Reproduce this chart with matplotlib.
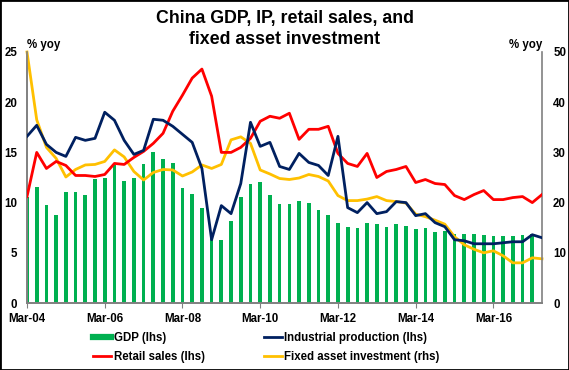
import numpy as np
import matplotlib
matplotlib.use("Agg")
import matplotlib.pyplot as plt
from matplotlib.lines import Line2D
from matplotlib.patches import Rectangle

plt.rcParams["font.family"] = ["Liberation Sans", "DejaVu Sans"]
plt.rcParams["font.weight"] = "bold"

# quarterly, Mar-04 .. Jun-17
x_labels = ["Mar-04", "Mar-06", "Mar-08", "Mar-10", "Mar-12", "Mar-14", "Mar-16"]

gdp = [10.6, 11.6, 9.8, 8.8, 11.1, 11.1, 10.8, 12.4, 12.5, 13.7,
       12.2, 12.5, 13.8, 15.0, 14.3, 13.9, 11.5, 10.9, 9.5, 6.6,
       6.3, 8.2, 10.6, 11.9, 12.1, 10.8, 9.9, 9.9, 10.2, 10.0,
       9.3, 8.8, 8.0, 7.6, 7.5, 8.0, 7.9, 7.6, 7.9, 7.7,
       7.4, 7.5, 7.1, 7.2, 6.9, 6.9, 6.9, 6.8, 6.7, 6.7,
       6.7, 6.8, 6.9, np.nan]

ip = [16.6, 17.7, 15.8, 15.0, 14.6, 16.5, 16.2, 16.4, 19.0, 18.2,
      16.2, 14.8, 15.2, 18.3, 18.2, 17.6, 16.8, 16.0, 13.4, 6.3,
      9.7, 8.9, 11.9, 18.0, 15.6, 16.0, 13.6, 13.3, 14.9, 14.0,
      13.7, 12.7, 16.6, 9.5, 9.0, 10.0, 8.9, 9.1, 10.1, 10.0,
      8.7, 8.9, 8.0, 7.6, 6.3, 6.2, 5.9, 5.9, 5.9, 6.0,
      6.1, 6.1, 6.8, 6.5]

retail = [10.6, 15.0, 13.4, 14.1, 13.7, 12.7, 12.7, 12.6, 12.8, 13.9,
          13.8, 14.5, 15.1, 15.9, 16.9, 19.1, 20.7, 22.4, 23.3, 20.6,
          15.0, 15.0, 15.5, 16.4, 18.1, 18.6, 18.4, 18.9, 16.3, 17.3,
          17.3, 17.6, 14.9, 13.9, 13.6, 14.9, 12.5, 13.1, 13.3, 13.6,
          12.0, 12.3, 11.9, 11.8, 10.7, 10.3, 10.8, 11.2, 10.3, 10.3,
          10.5, 10.6, 10.0, 10.8]

fai = [50.0, 36.5, 31.0, 28.8, 25.1, 26.6, 27.5, 27.6, 28.2, 30.5,
       29.1, 26.2, 24.5, 26.0, 26.6, 26.5, 25.3, 26.1, 27.5, 26.8,
       27.6, 32.5, 33.1, 31.8, 26.5, 25.7, 24.8, 24.6, 24.9, 25.6,
       25.2, 24.3, 21.4, 20.4, 20.4, 20.7, 21.2, 20.4, 20.2, 19.9,
       17.7, 17.2, 16.5, 15.7, 13.2, 11.6, 10.7, 10.0, 10.4, 9.4,
       8.0, 8.0, 9.0, 8.8]

GREEN = "#00B050"
NAVY = "#002060"
RED = "#FF0000"
GOLD = "#FFC000"
GREY = "#808080"

W, H = 569, 370
fig = plt.figure(figsize=(W / 100, H / 100), dpi=100)
fig.patches.append(Rectangle((0, 0), 1, 1, transform=fig.transFigure,
                             fill=False, edgecolor="black", linewidth=2.0))

t = np.arange(len(gdp))
ax = fig.add_axes([27 / W, 67 / H, 515 / W, 251 / H])
ax.bar(t, gdp, width=0.38, color=GREEN, zorder=2)
ax.set_ylim(0, 25)
ax.set_xlim(0, len(gdp) - 1)
ax.set_yticks(range(0, 26, 5))

# rhs for fixed asset investment
ax2 = ax.twinx()
ax2.plot(t, fai, color=GOLD, lw=2.0, clip_on=False)
ax2.set_ylim(0, 50)
ax2.set_yticks(range(0, 51, 10))

# lhs lines on top
ax3 = ax.twinx()
ax3.plot(t, retail, color=RED, lw=2.0)
ax3.plot(t, ip, color=NAVY, lw=2.0)
ax3.set_ylim(0, 25)
ax3.axis("off")

fs = 8.3
ax.set_xticks(range(0, 49, 8))
ax.set_xticklabels(x_labels)
ax.tick_params(axis="x", direction="out", length=3.5, color=GREY, pad=4, labelsize=fs)
ax.tick_params(axis="y", length=0, pad=7, labelsize=fs)
ax2.tick_params(axis="y", length=0, pad=8, labelsize=fs)

for a in (ax, ax2):
    a.spines["top"].set_visible(False)
    for s in ("left", "right", "bottom"):
        a.spines[s].set_color(GREY)
        a.spines[s].set_linewidth(1.2)
ax.spines["right"].set_visible(False)

fig.text(27 / W, 1 - 45 / H, "% yoy", fontsize=fs, fontweight="bold",
         ha="left", va="center")
fig.text(542 / W, 1 - 45 / H, "% yoy", fontsize=fs, fontweight="bold",
         ha="right", va="center")

fig.text(0.5, 1 - 10 / H, "China GDP, IP, retail sales, and\nfixed asset investment",
         fontsize=12.8, fontweight="bold", ha="center", va="top", linespacing=1.3)

handles = [Line2D([], [], color=GREEN, lw=4.5),
           Line2D([], [], color=RED, lw=2.0),
           Line2D([], [], color=NAVY, lw=2.0),
           Line2D([], [], color=GOLD, lw=2.0)]
labels = ["GDP (lhs)", "Retail sales (lhs)",
          "Industrial production (lhs)", "Fixed asset investment (rhs)"]
fig.legend(handles, labels, ncol=2, loc="upper left",
           bbox_to_anchor=(93 / W, 1 - 332 / H), frameon=False,
           fontsize=fs, handlelength=1.6, handletextpad=0.2,
           columnspacing=5.1, labelspacing=0.6, borderpad=0, borderaxespad=0)

fig.savefig("out.png", dpi=100)
